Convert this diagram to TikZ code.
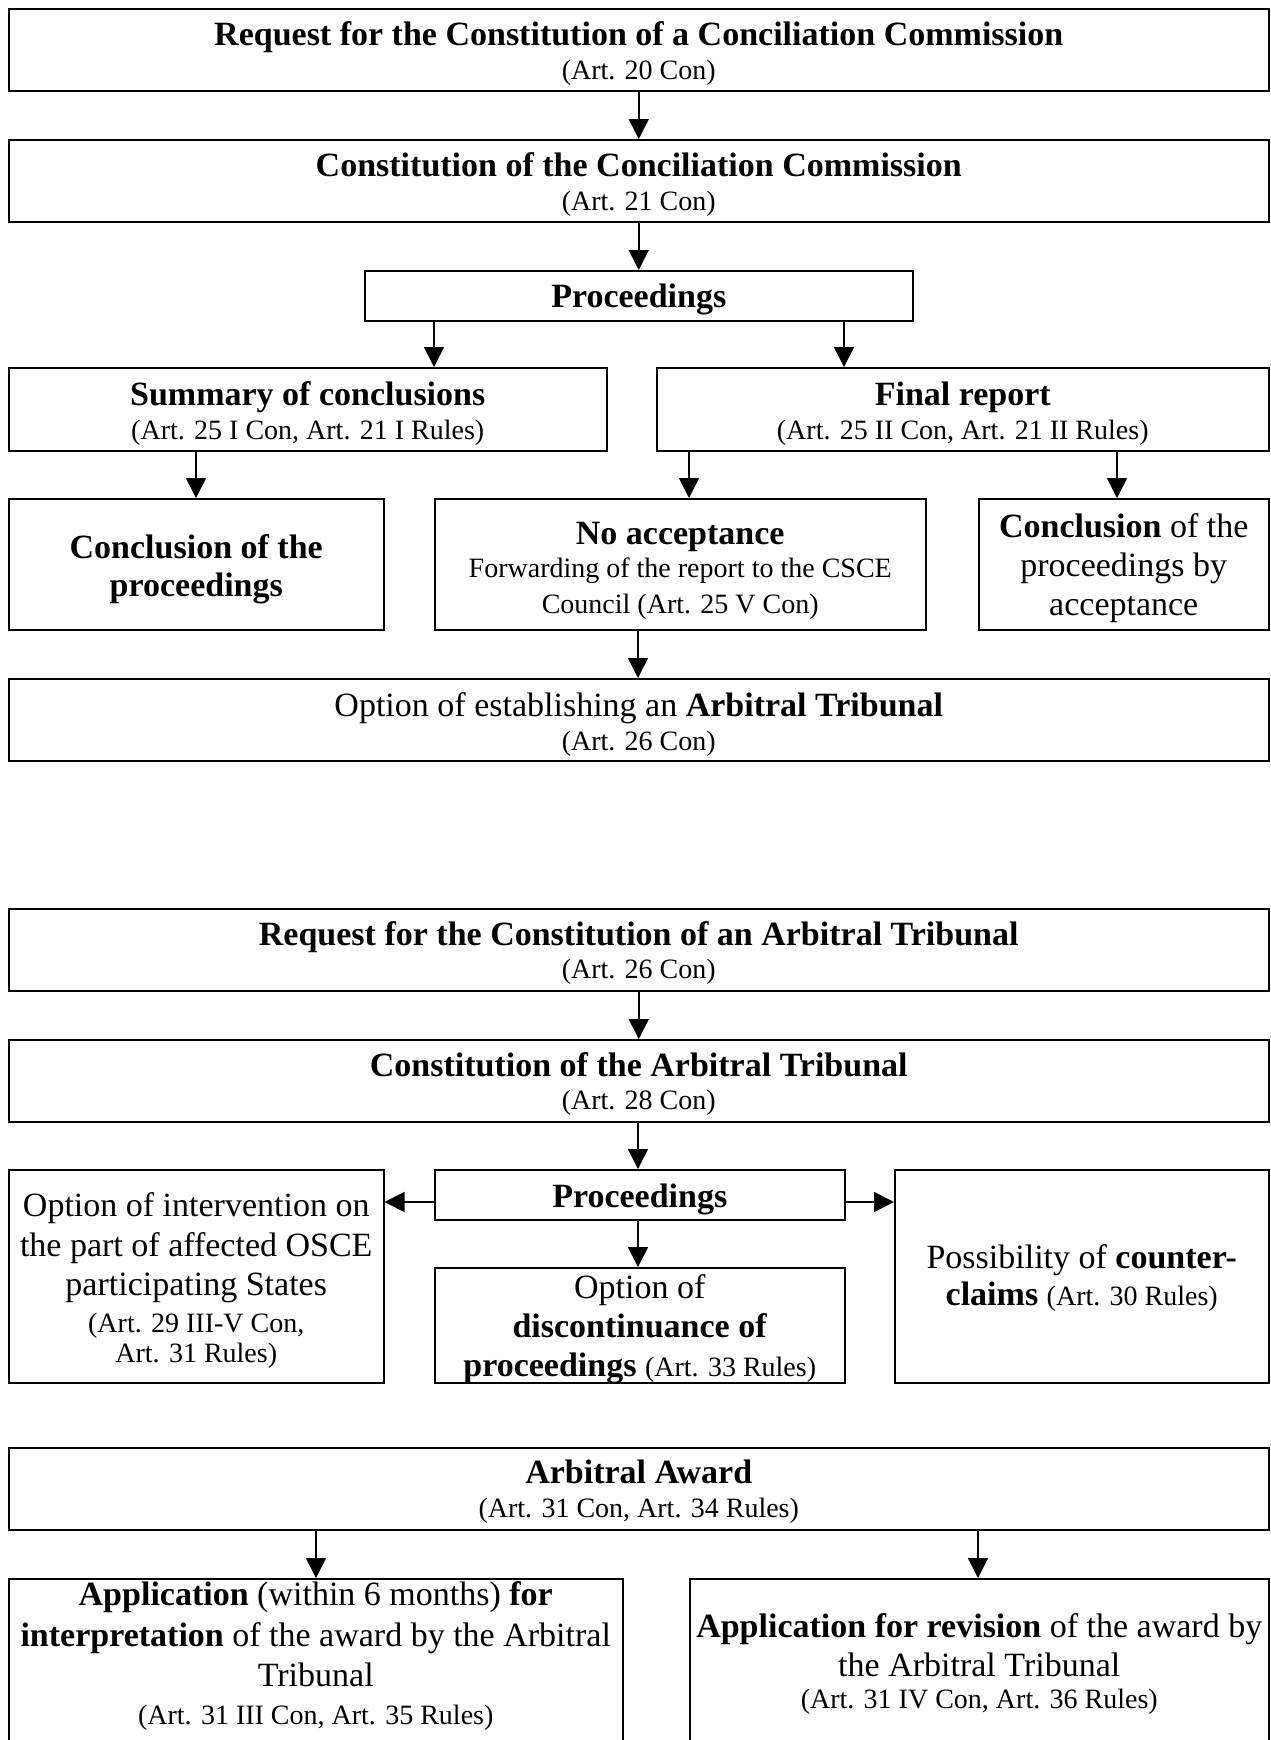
\documentclass[tikz,border=0pt]{standalone}
\usepackage{fontspec}
\setmainfont{Liberation Serif}
\usetikzlibrary{arrows.meta}
\newcommand\mnfont{\fontsize{34}{39}\selectfont}
\newcommand\smfont{\fontsize{28}{39}\selectfont}
\newcommand\tpstrut[1][31]{\rule{0pt}{#1pt}}
\newcommand\bdstrut[1][22]{\rule[-#1pt]{0pt}{0pt}}
\tikzset{
  box/.style={draw, line width=1.5pt, inner sep=0pt, align=center, anchor=north west, font=\mnfont},
  arr/.style={-{Triangle[length=20pt,width=20pt]}, line width=1.6pt},
}
\begin{document}
\begin{tikzpicture}[x=1pt,y=-1pt]
\useasboundingbox (0,0) rectangle (1270,1740);
\fill[white] (0,0) rectangle (1270,1740);
\clip (0,0) rectangle (1270,1740);

% Conciliation part
\node[box, minimum width=1260pt, minimum height=82pt] (req) at (8,8)
  {\tpstrut[31.5]\textbf{Request for the Constitution of a Conciliation Commission}\\[-5pt]{\smfont (Art. 20 Con)}};
\node[box, minimum width=1260pt, minimum height=82pt] (con) at (8,139)
  {\tpstrut[31.5]\textbf{Constitution of the Conciliation Commission}\\[-5pt]{\smfont (Art. 21 Con)}};
\node[box, minimum width=548pt, minimum height=50pt] (proc) at (364,270)
  {\tpstrut[30.4]\textbf{Proceedings}};
\node[box, minimum width=598pt, minimum height=83pt] (sum) at (8,367)
  {\tpstrut[32.6]\textbf{Summary of conclusions}\\[-5pt]{\smfont (Art. 25 I Con, Art. 21 I Rules)}};
\node[box, minimum width=612pt, minimum height=83pt] (fin) at (656,367)
  {\tpstrut[32.6]\textbf{Final report}\\[-5pt]{\smfont (Art. 25 II Con, Art. 21 II Rules)}};
\node[box, minimum width=375pt, minimum height=131pt] (concl) at (8,498)
  {\tpstrut[33.4]\textbf{Conclusion of the}\\[-1pt]\textbf{proceedings}};
\node[box, minimum width=491pt, minimum height=131pt] (noacc) at (434,498)
  {\tpstrut[36]\textbf{No acceptance}\\[-6pt]{\smfont Forwarding of the report to the CSCE}\\[-3pt]{\smfont Council (Art. 25 V Con)}};
\node[box, minimum width=290pt, minimum height=131pt] (acc) at (978,498)
  {\tpstrut[32.4]\textbf{Conclusion} of the\\proceedings by\\acceptance};
\node[box, minimum width=1260pt, minimum height=82pt] (opt) at (8,678)
  {\tpstrut[33.6]Option of establishing an \textbf{Arbitral Tribunal}\\[-5pt]{\smfont (Art. 26 Con)}};

% Arbitration part
\node[box, minimum width=1260pt, minimum height=82pt] (reqa) at (8,908)
  {\tpstrut[30.5]\textbf{Request for the Constitution of an Arbitral Tribunal}\\[-6pt]{\smfont (Art. 26 Con)}};
\node[box, minimum width=1260pt, minimum height=82pt] (cona) at (8,1039)
  {\tpstrut[30.5]\textbf{Constitution of the Arbitral Tribunal}\\[-6pt]{\smfont (Art. 28 Con)}};
\node[box, minimum width=410pt, minimum height=50pt] (proca) at (434,1169)
  {\tpstrut[32.4]\textbf{Proceedings}};
\node[box, minimum width=375pt, minimum height=213pt] (interv) at (8,1169)
  {\tpstrut[32.2]Option of intervention on\\[1pt]the part of affected OSCE\\participating States\\[-2pt]{\smfont (Art. 29 III-V Con,}\\[-9pt]{\smfont Art. 31 Rules)}};
\node[box, minimum width=410pt, minimum height=115pt, text depth=0pt] (disc) at (434,1267)
  {Option of\\\textbf{discontinuance of}\\\textbf{proceedings} {\smfont (Art. 33 Rules)}};
\node[box, minimum width=374pt, minimum height=213pt] (counter) at (894,1169)
  {\tpstrut[28.4]Possibility of \textbf{counter-}\\[-2pt]\textbf{claims} {\smfont (Art. 30 Rules)}};

\node[box, minimum width=1260pt, minimum height=82pt] (award) at (8,1447)
  {\tpstrut[30.4]\textbf{Arbitral Award}\\[-5pt]{\smfont (Art. 31 Con, Art. 34 Rules)}};
\node[box, minimum width=614pt, minimum height=170pt] (interp) at (8,1578)
  {\textbf{Application} (within 6 months) \textbf{for}\\[2pt]\textbf{interpretation} of the award by the Arbitral\\[1pt]Tribunal\\[-1pt]{\smfont (Art. 31 III Con, Art. 35 Rules)}\bdstrut};
\node[box, minimum width=579pt, minimum height=170pt] (rev) at (689,1578)
  {\textbf{Application for revision} of the award by\\the Arbitral Tribunal\\[-7pt]{\smfont (Art. 31 IV Con, Art. 36 Rules)}};

% helper coordinates for connector positions
\coordinate (xa) at (434,0);
\coordinate (xb) at (844,0);
\coordinate (xc) at (196,0);
\coordinate (xd) at (689,0);
\coordinate (xe) at (1117,0);
\coordinate (xm) at (638,0);
\coordinate (xf) at (316,0);
\coordinate (xg) at (978,0);
\coordinate (hy) at (0,1202);

% connectors
\draw[arr] (req.south) -- (con.north);
\draw[arr] (con.south) -- (proc.north);
\draw[arr] (proc.south -| xa) -- (sum.north -| xa);
\draw[arr] (proc.south -| xb) -- (fin.north -| xb);
\draw[arr] (sum.south -| xc) -- (concl.north -| xc);
\draw[arr] (fin.south -| xd) -- (noacc.north -| xd);
\draw[arr] (fin.south -| xe) -- (acc.north -| xe);
\draw[arr] (noacc.south -| xm) -- (opt.north -| xm);

\draw[arr] (reqa.south) -- (cona.north);
\draw[arr] (cona.south -| xm) -- (proca.north -| xm);
\draw[arr] (proca.south -| xm) -- (disc.north -| xm);
\draw[arr] (proca.west |- hy) -- (interv.east |- hy);
\draw[arr] (proca.east |- hy) -- (counter.west |- hy);

\draw[arr] (award.south -| xf) -- (interp.north -| xf);
\draw[arr] (award.south -| xg) -- (rev.north -| xg);
\end{tikzpicture}
\end{document}
